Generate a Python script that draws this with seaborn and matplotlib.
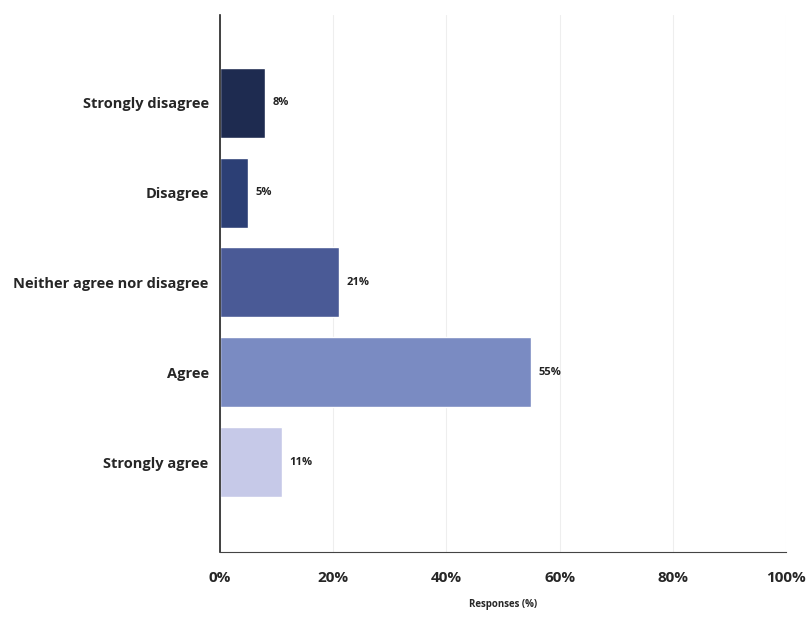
import matplotlib
matplotlib.use("Agg")
import matplotlib.pyplot as plt
import seaborn as sns
import pandas as pd

# data
categories = ["Strongly disagree", "Disagree", "Neither agree nor disagree", "Agree", "Strongly agree"]
values = [8, 5, 21, 55, 11]
labels = ["8%", "5%", "21%", "55%", "11%"]
colors = ["#1e2b50", "#2c3f75", "#4a5a96", "#7a8bc2", "#c6c9e8"]
xticks = [0, 20, 40, 60, 80, 100]

sns.set_style("white")
plt.rcParams["font.family"] = ["Open Sans", "DejaVu Sans"]

df = pd.DataFrame({"cat": categories, "val": values})

fig = plt.figure(figsize=(8.08, 6.18), dpi=100)
ax = fig.add_axes([0.272, 0.107, 0.701, 0.869])

sns.barplot(data=df, x="val", y="cat", hue="cat", palette=colors, legend=False,
            width=0.78, ax=ax, saturation=1)

for i, (v, t) in enumerate(zip(values, labels)):
    ax.text(v + 1.3, i, t, va="center", ha="left", fontsize=8, fontweight="bold", color="#222222")

ax.set_xlim(0, 100)
ax.set_ylim(5.0, -0.98)
ax.set_xticks(xticks)
ax.set_xticklabels([f"{x}%" for x in xticks], fontsize=11, fontweight="bold")
ax.tick_params(axis="y", labelsize=10.5, length=0, pad=8)
for lbl in ax.get_yticklabels():
    lbl.set_fontweight("bold")
ax.tick_params(axis="x", length=0, pad=14)
ax.set_ylabel("")
ax.set_xlabel("Responses (%)", fontsize=7, fontweight="bold", labelpad=10)
ax.xaxis.grid(True, color="#eeeeee", linewidth=0.8)
ax.set_axisbelow(True)

for s in ["top", "right"]:
    ax.spines[s].set_visible(False)
ax.spines["left"].set_color("#222222")
ax.spines["bottom"].set_color("#444444")
ax.spines["left"].set_linewidth(1.2)

fig.savefig("out.png", dpi=100)
